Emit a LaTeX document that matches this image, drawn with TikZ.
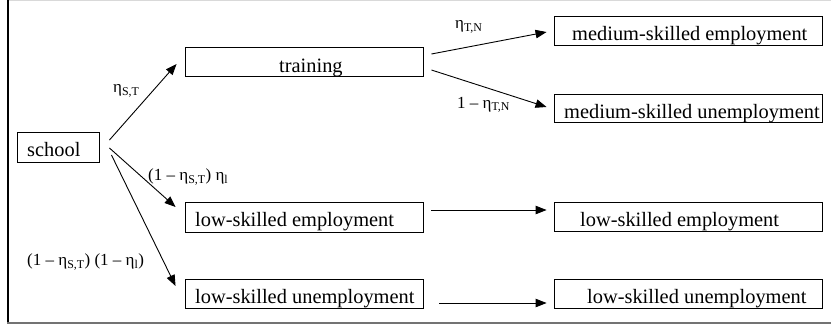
\documentclass[tikz,border=0pt]{standalone}
\usepackage{fontspec}
\setmainfont{Liberation Serif}
\usetikzlibrary{arrows.meta,calc}
\begin{document}
\begin{tikzpicture}[x=1pt,y=-1pt,
  box/.style={draw, line width=0.9pt, rectangle, inner sep=0pt, minimum height=29pt},
  boxtext/.style={anchor=base west, inner sep=0pt, font=\fontsize{20.4}{24}\selectfont},
  lbl/.style={anchor=west, inner sep=0pt, font=\fontsize{17}{20}\selectfont},
  arr/.style={line width=0.9pt, -{Triangle[length=11pt,width=8.5pt]}}]
\useasboundingbox (0,0) rectangle (831,327);
% frame
\draw[line width=1.2pt, black!15] (7,0.6) -- (831,0.6);
\draw[line width=2pt, black] (7.5,0) -- (7.5,323);
\draw[line width=2pt, black!55] (7,322.5) -- (831,322.5);
% boxes
\node[box, minimum width=82pt, minimum height=30pt] (school) at (58,147) {};
\node[box, minimum width=238pt] (training) at (304,61.5) {};
\node[box, minimum width=268pt] (mse) at (688,30.5) {};
\node[box, minimum width=268pt, minimum height=28pt] (msu) at (688,108) {};
\node[box, minimum width=238pt, minimum height=30pt] (lse1) at (304,217) {};
\node[box, minimum width=238pt] (lsu1) at (304,293.5) {};
\node[box, minimum width=268pt] (lse2) at (688,216.5) {};
\node[box, minimum width=268pt] (lsu2) at (688,293.5) {};
% texts
\node[boxtext] (tschool) at (27,156) {school};
\node[boxtext] (ttraining) at (279,72) {training};
\node[boxtext] (tmse) at (572,40) {medium-skilled employment};
\node[boxtext] (tmsu) at (564,118) {medium-skilled unemployment};
\node[boxtext] (tlse1) at (195,226) {low-skilled employment};
\node[boxtext] (tlsu1) at (195,303) {low-skilled unemployment};
\node[boxtext] (tlse2) at (580,226) {low-skilled employment};
\node[boxtext] (tlsu2) at (587,303) {low-skilled unemployment};
% labels
\node[lbl] (l1) at (113,91) {η\textsubscript{S,T}};
\node[lbl] (l2) at (455,27) {η\textsubscript{T,N}};
\node[lbl] (l3) at (457,105) {1 – η\textsubscript{T,N}};
\node[lbl] (l4) at (148,177) {(1 – η\textsubscript{S,T}) η\textsubscript{l}};
\node[lbl] (l5) at (27,262) {(1 – η\textsubscript{S,T}) (1 – η\textsubscript{l})};
% arrows
\draw[arr] ($(school.east)+(10,-7)$) -- ($(training.west)+(-8,2.5)$);
\draw[arr] ($(school.east)+(10,1)$) -- ($(lse1.west)+(-9,-10)$);
\draw[arr] ($(school.east)+(12,8)$) -- ($(lsu1.west)+(-9,-7.5)$);
\draw[arr] ($(training.east)+(8,-7.5)$) -- ($(mse.west)+(-7,1.5)$);
\draw[arr] ($(training.east)+(8,8.5)$) -- ($(msu.west)+(-7,-1)$);
\draw[arr] ($(lse1.east)+(8,-7)$) -- ($(lse2.west)+(-7,-6.5)$);
\draw[arr] ($(lsu1.east)+(16,9.5)$) -- ($(lsu2.west)+(-7,9.5)$);
\end{tikzpicture}
\end{document}
